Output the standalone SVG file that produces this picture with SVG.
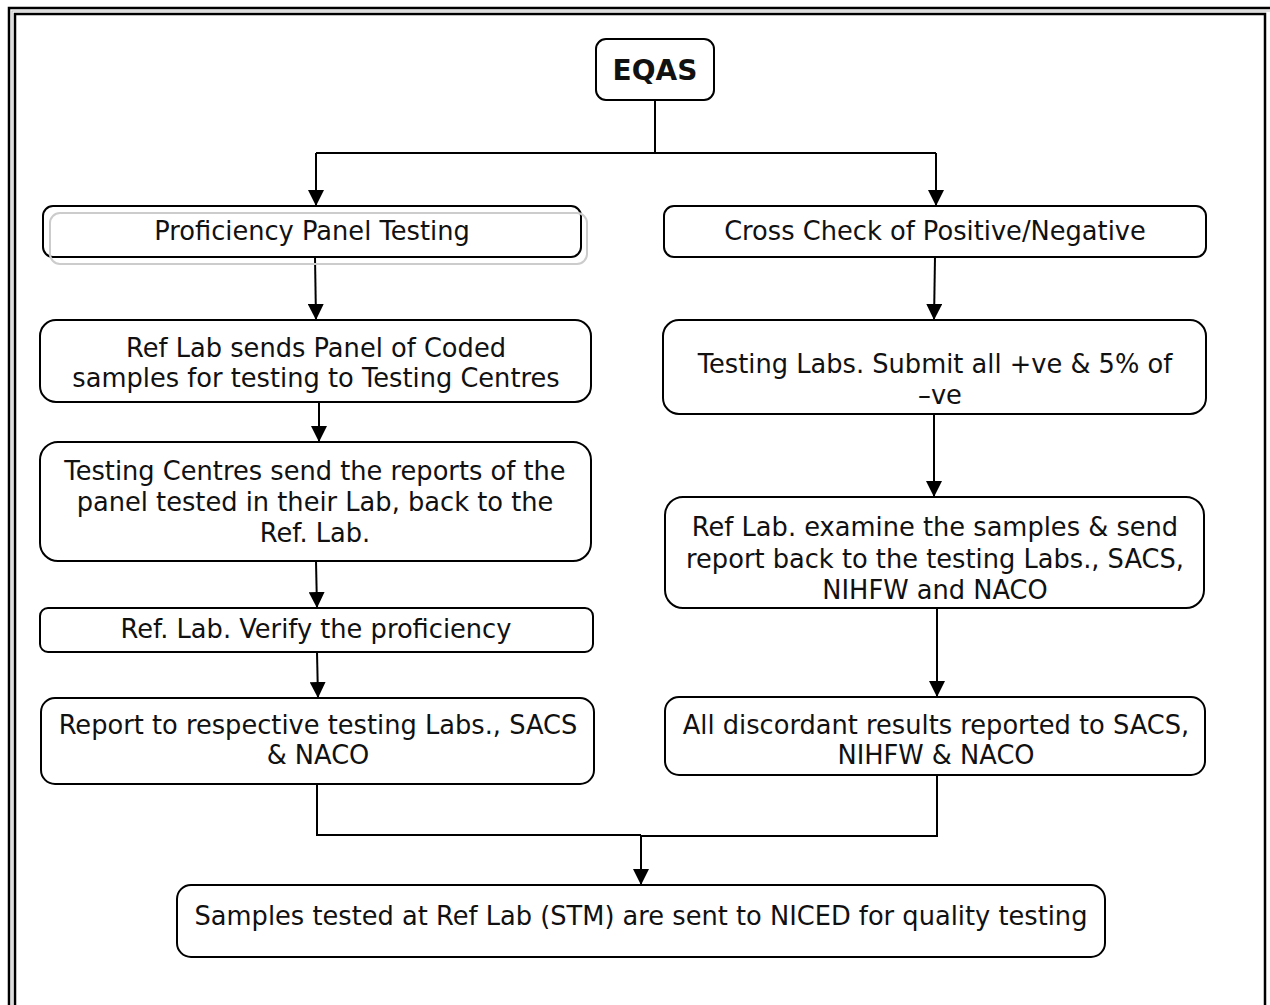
<svg xmlns="http://www.w3.org/2000/svg" width="1270" height="1005" viewBox="0 0 1270 1005">
<style>
.box{fill:#fff;stroke:#000;stroke-width:2}
.t{font-family:"DejaVu Sans",Verdana,sans-serif;font-size:25.7px;fill:#111;text-anchor:middle}
.b{font-weight:bold;font-size:28px}
.c{fill:none;stroke:#000;stroke-width:2}
</style>
<defs>
<marker id="ad" markerUnits="userSpaceOnUse" markerWidth="16" markerHeight="16" refX="16" refY="8" orient="auto" viewBox="0 0 16 16">
<path d="M0,0 L16,8 L0,16 Z" fill="#000"/>
</marker>
</defs>
<rect width="1270" height="1005" fill="#fff"/>
<g id="frame">
<rect x="9" y="8" width="1300" height="1040" fill="none" stroke="#000" stroke-width="2.5"/>
<rect x="12" y="11" width="1300" height="1040" fill="none" stroke="#bbb" stroke-width="1"/>
<rect x="15" y="14" width="1250" height="1040" fill="none" stroke="#000" stroke-width="2.5"/>
</g>
<g id="connectors">
<path class="c" d="M655,100 V153 M316,153 H936"/>
<path class="c" d="M316,153 V206" marker-end="url(#ad)"/>
<path class="c" d="M936,153 V206" marker-end="url(#ad)"/>
<path class="c" d="M315,257 L316,320" marker-end="url(#ad)"/>
<path class="c" d="M319,402 V442" marker-end="url(#ad)"/>
<path class="c" d="M316,561 L317,608" marker-end="url(#ad)"/>
<path class="c" d="M317,652 L318,698" marker-end="url(#ad)"/>
<path class="c" d="M935,257 L934,320" marker-end="url(#ad)"/>
<path class="c" d="M934,414 V497" marker-end="url(#ad)"/>
<path class="c" d="M937,608 V697" marker-end="url(#ad)"/>
<path class="c" d="M317,784 V835 H641 M937,775 V836 H641"/>
<path class="c" d="M641,835 V885" marker-end="url(#ad)"/>
</g>
<g id="n-eqas">
<rect class="box" x="596" y="39" width="118" height="61" rx="10"/>
<text class="t b" x="655" y="80">EQAS</text>
</g>
<g id="n-proficiency">
<rect class="box" x="43" y="206" width="538" height="51" rx="10"/>
<rect x="50" y="213" width="537" height="51" rx="10" fill="none" stroke="#ccc" stroke-width="2"/>
<text class="t" x="312" y="240">Proficiency Panel Testing</text>
</g>
<g id="n-crosscheck">
<rect class="box" x="664" y="206" width="542" height="51" rx="10"/>
<text class="t" x="935" y="240">Cross Check of Positive/Negative</text>
</g>
<g id="n-reflab-sends">
<rect class="box" x="40" y="320" width="551" height="82" rx="16"/>
<text class="t" x="316" y="357">Ref Lab sends Panel of Coded</text>
<text class="t" x="316" y="387">samples for testing to Testing Centres</text>
</g>
<g id="n-testing-centres">
<rect class="box" x="40" y="442" width="551" height="119" rx="18"/>
<text class="t" x="315" y="480">Testing Centres send the reports of the</text>
<text class="t" x="315" y="511">panel tested in their Lab, back to the</text>
<text class="t" x="315" y="542">Ref. Lab.</text>
</g>
<g id="n-verify">
<rect class="box" x="40" y="608" width="553" height="44" rx="8"/>
<text class="t" x="316" y="638">Ref. Lab. Verify the proficiency</text>
</g>
<g id="n-report">
<rect class="box" x="41" y="698" width="553" height="86" rx="14"/>
<text class="t" x="318" y="734">Report to respective testing Labs., SACS</text>
<text class="t" x="318" y="764">&amp; NACO</text>
</g>
<g id="n-testing-labs">
<rect class="box" x="663" y="320" width="543" height="94" rx="16"/>
<text class="t" x="935" y="373">Testing Labs. Submit all +ve &amp; 5% of</text>
<text class="t" x="940" y="404">–ve</text>
</g>
<g id="n-examine">
<rect class="box" x="665" y="497" width="539" height="111" rx="18"/>
<text class="t" x="935" y="536">Ref Lab. examine the samples &amp; send</text>
<text class="t" x="935" y="568">report back to the testing Labs., SACS,</text>
<text class="t" x="935" y="599">NIHFW and NACO</text>
</g>
<g id="n-discordant">
<rect class="box" x="665" y="697" width="540" height="78" rx="14"/>
<text class="t" x="936" y="734">All discordant results reported to SACS,</text>
<text class="t" x="936" y="764">NIHFW &amp; NACO</text>
</g>
<g id="n-samples">
<rect class="box" x="177" y="885" width="928" height="72" rx="14"/>
<text class="t" x="641" y="925">Samples tested at Ref Lab (STM) are sent to NICED for quality testing</text>
</g>
</svg>
